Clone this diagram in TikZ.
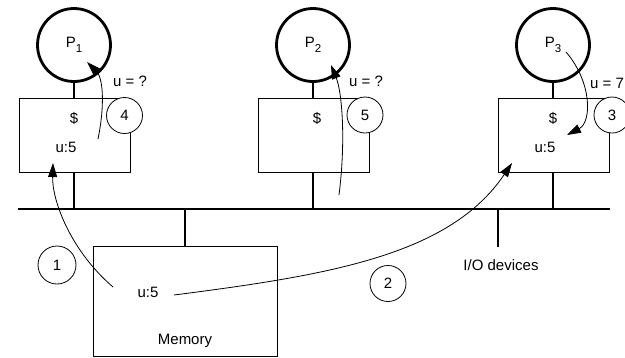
\documentclass[tikz,border=0pt]{standalone}
\usepackage{fontspec}
\setmainfont{Liberation Sans}
\usetikzlibrary{arrows.meta}
\newcommand{\lowsub}[1]{\raisebox{-0.33em}{\fontsize{11.5}{12}\selectfont #1}}
\begin{document}
\begin{tikzpicture}[x=1pt,y=-1pt,
  thickln/.style={line width=2.8pt},
  proc/.style={circle,draw,line width=2.8pt,minimum size=73pt,inner sep=0pt,font=\fontsize{15}{18}\selectfont},
  cache/.style={rectangle,draw,line width=0.9pt,minimum width=111pt,minimum height=74pt,inner sep=0pt},
  stepc/.style={circle,draw,fill=white,line width=0.8pt,minimum size=36pt,inner sep=0pt,font=\fontsize{15}{18}\selectfont},
  txt/.style={inner sep=0pt,font=\fontsize{15}{18}\selectfont},
  flow/.style={line width=0.8pt,-{Triangle[length=14pt,width=9pt]}}
]
\useasboundingbox (0,0) rectangle (625,357);

% caches
\node[cache] (C1) at (74.5,135) {};
\node[cache] (C2) at (314,135) {};
\node[cache] (C3) at (553.5,135) {};
% memory
\node[cache,minimum width=184pt,minimum height=110pt] (M) at (185,301) {};

% processors
\node[proc] (P1) at (74,45) {P\lowsub{1}};
\node[proc] (P2) at (313,45) {P\lowsub{2}};
\node[proc] (P3) at (553,45) {P\lowsub{3}};

% bus
\coordinate (busL) at (18,209);
\coordinate (busR) at (610,209);
\coordinate (io) at (498,247);
\draw[thickln] (busL) -- (busR);
\draw[thickln] (P1.south) -- (P1.south |- C1.north);
\draw[thickln] (P2.south) -- (P2.south |- C2.north);
\draw[thickln] (P3.south) -- (P3.south |- C3.north);
\draw[thickln] (P1.south |- C1.south) -- (P1.south |- busL);
\draw[thickln] (P2.south |- C2.south) -- (P2.south |- busL);
\draw[thickln] (P3.south |- C3.south) -- (P3.south |- busL);
\draw[thickln] (M.north) -- (M.north |- busL);
\draw[thickln] (io) -- (io |- busL);

% texts
\node[txt] (d1) at (74,118) {\$};
\node[txt] (d2) at (317,118) {\$};
\node[txt] (d3) at (553,118) {\$};
\node[txt] (u1) at (66,147) {u:5};
\node[txt] (u3) at (545,147) {u:5};
\node[txt] (um) at (148,292) {u:5};
\node[txt] (mem) at (185,341) {Memory};
\node[txt] (iot) at (501,265) {I/O devices};
\node[txt] (q1) at (130,81) {u = ?};
\node[txt] (q2) at (366,81) {u = ?};
\node[txt,anchor=west] (q3) at (590,83) {u = 7};

% step circles
\node[stepc] (s4) at (124.5,115.5) {4};
\node[stepc] (s5) at (365,115) {5};
\node[stepc] (s3) at (612,115) {3};
\node[stepc,minimum size=38pt] (s1) at (57,265) {1};
\node[stepc] (s2) at (388,283.5) {2};

% flows
\coordinate (a1s) at (113,287);
\coordinate (a1e) at (53,163);
\coordinate (a2s) at (174,295);
\coordinate (a2e) at (512,163);
\coordinate (a3s) at (566,52);
\coordinate (a3e) at (567,135);
\coordinate (a4s) at (98,139);
\coordinate (a4e) at (87,62);
\coordinate (a5s) at (339,195);
\coordinate (a5e) at (331,65);
\draw[flow] (a1s) .. controls (70,250) and (52,200) .. (a1e);
\draw[flow] (a2s) .. controls (330,275) and (450,255) .. (a2e);
\draw[flow] (a3s) .. controls (592,82) and (592,122) .. (a3e);
\draw[flow] (a4s) .. controls (105,105) and (103,78) .. (a4e);
\draw[flow] (a5s) .. controls (346,140) and (342,92) .. (a5e);
\end{tikzpicture}
\end{document}
